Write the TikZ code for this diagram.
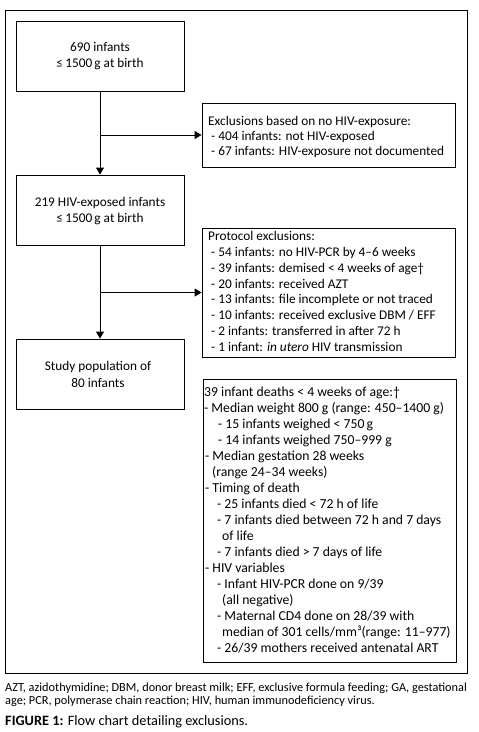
\documentclass[tikz,border=0pt]{standalone}
\usepackage{fontspec}
\setmainfont{Carlito}
\usetikzlibrary{arrows.meta}
\begin{document}
\begin{tikzpicture}[x=1pt,y=-1pt,
  box/.style={draw, line width=0.9pt, inner sep=0pt},
  txt/.style={inner sep=0pt, anchor=base west, font=\fontsize{13.3}{16}\selectfont},
  dtxt/.style={inner sep=0pt, anchor=base west, font=\fontsize{13.7}{16}\selectfont},
  ctxt/.style={inner sep=0pt, anchor=base, font=\fontsize{13.3}{16}\selectfont},
  captxt/.style={inner sep=0pt, anchor=base west, font=\fontsize{12.3}{14}\selectfont},
  arr/.style={line width=0.9pt, -{Triangle[length=7pt,width=8pt]}}]
\useasboundingbox (0,0) rectangle (479,732);
\fill[white] (0,0) rectangle (479,732);
% outer frame
\node[box, minimum width=462pt, minimum height=663pt] (frame) at (236,341.5) {};
% main boxes
\node[box, minimum width=168pt, minimum height=70pt] (b1) at (100,56) {};
\node[box, minimum width=168pt, minimum height=70pt] (b2) at (100,210) {};
\node[box, minimum width=168pt, minimum height=70pt] (b3) at (100,374) {};
\node[box, minimum width=253pt, minimum height=64pt] (e1) at (328.5,135) {};
\node[box, minimum width=253pt, minimum height=129pt] (e2) at (328.5,292.5) {};
\node[box, minimum width=253pt, minimum height=283pt] (d) at (329.5,520.5) {};
% connectors
\draw[arr] (b1.south) -- (b2.north);
\draw[arr] (b2.south) -- (b3.north);
\coordinate (j1) at (b1.south |- e1.west);
\coordinate (j2) at (b2.south |- e2.west);
\draw[arr] (j1) -- (e1.west);
\draw[arr] (j2) -- (e2.west);
% box texts
\node[ctxt] (t1a) at (100,51.5) {690 infants};
\node[ctxt] (t1b) at (100,67.5) {≤\,1500\,g at birth};
\node[ctxt] (t2a) at (100,206.5) {219 HIV-exposed infants};
\node[ctxt] (t2b) at (100,222.5) {≤\,1500\,g at birth};
\node[ctxt] (t3a) at (98,370.5) {Study population of};
\node[ctxt] (t3b) at (98,387.5) {80 infants};
% exclusions
\node[txt] (e1a) at (208,125.5) {Exclusions based on no HIV-exposure:};
\node[txt] (e1b) at (211,140.5) {- 404 infants: not HIV-exposed};
\node[txt] (e1c) at (211,155.5) {- 67 infants: HIV-exposure not documented};
% protocol
\node[txt] (p0) at (208,240.5) {Protocol exclusions:};
\node[txt] (p1) at (211,256.5) {- 54 infants: no HIV-PCR by 4–6 weeks};
\node[txt] (p2) at (211,272.5) {- 39 infants: demised < 4 weeks of age†};
\node[txt] (p3) at (211,288.5) {- 20 infants: received AZT};
\node[txt] (p4) at (211,303.5) {- 13 infants: file incomplete or not traced};
\node[txt] (p5) at (211,319.5) {- 10 infants: received exclusive DBM / EFF};
\node[txt] (p6) at (211,335.5) {- 2 infants: transferred in after 72 h};
\node[txt] (p7) at (211,351.5) {- 1 infant: \textit{in utero} HIV transmission};
% deaths
\node[dtxt] (d0) at (204,396.5) {39 infant deaths < 4 weeks of age:†};
\node[dtxt] (d1) at (204,412.5) {- Median weight 800 g (range: 450–1400 g)};
\node[dtxt] (d2) at (218,428.5) {- 15 infants weighed < 750\,g};
\node[dtxt] (d3) at (218,444.5) {- 14 infants weighed 750–999 g};
\node[dtxt] (d4) at (205,460.5) {- Median gestation 28 weeks};
\node[dtxt] (d5) at (212,476.5) {(range 24–34 weeks)};
\node[dtxt] (d6) at (205,492.5) {- Timing of death};
\node[dtxt] (d7) at (217,508.5) {- 25 infants died < 72 h of life};
\node[dtxt] (d8) at (217,524.5) {- 7 infants died between 72 h and 7 days};
\node[dtxt] (d9) at (222,540.5) {of life};
\node[dtxt] (d10) at (217,556.5) {- 7 infants died > 7 days of life};
\node[dtxt] (d11) at (205,572.5) {- HIV variables};
\node[dtxt] (d12) at (217,588.5) {- Infant HIV-PCR done on 9/39};
\node[dtxt] (d13) at (222,604.5) {(all negative)};
\node[dtxt] (d14) at (217,620.5) {- Maternal CD4 done on 28/39 with};
\node[dtxt] (d15) at (222,636.5) {median of 301 cells/mm³(range: 11–977)};
\node[dtxt] (d16) at (217,652.5) {- 26/39 mothers received antenatal ART};
% caption
\node[captxt] (c1) at (5,691.5) {AZT, azidothymidine; DBM, donor breast milk; EFF, exclusive formula feeding; GA, gestational};
\node[captxt] (c2) at (5,704.5) {age; PCR, polymerase chain reaction; HIV, human immunodeficiency virus.};
\node[inner sep=0pt, anchor=base west, font=\fontsize{14.3}{16}\selectfont] (c3) at (5,725) {\textbf{FIGURE 1:} Flow chart detailing exclusions.};
\end{tikzpicture}
\end{document}
